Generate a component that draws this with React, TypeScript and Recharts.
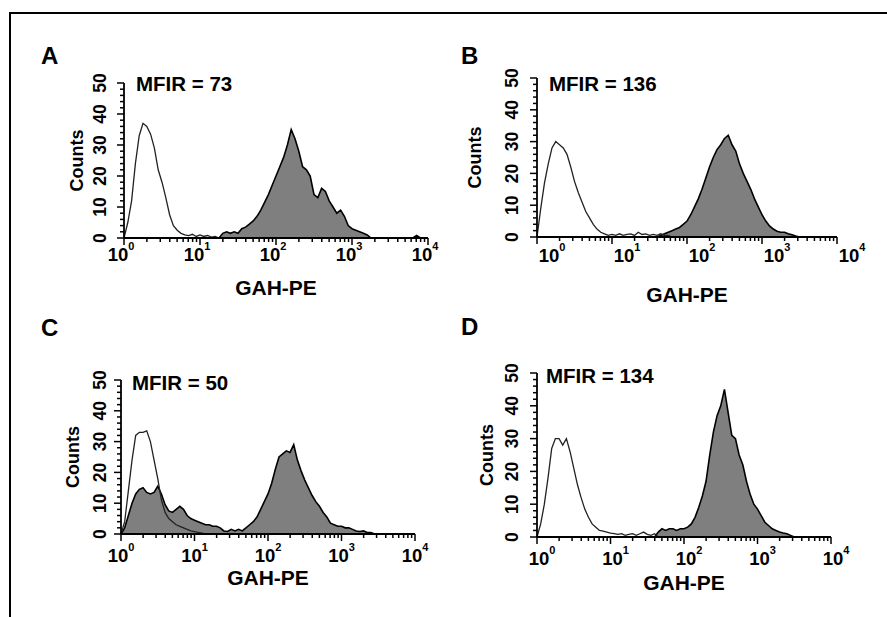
import { ComposedChart, Area, Line, XAxis, YAxis, Label } from "recharts"

// channel position in decades (10^x), shared by all panels
const channels = [
  0, 0.05, 0.1, 0.15, 0.2, 0.25, 0.3, 0.35, 0.4, 0.45,
  0.5, 0.55, 0.6, 0.65, 0.7, 0.75, 0.8, 0.85, 0.9, 0.95,
  1, 1.05, 1.1, 1.15, 1.2, 1.25, 1.3, 1.35, 1.4, 1.45,
  1.5, 1.55, 1.6, 1.65, 1.7, 1.75, 1.8, 1.85, 1.9, 1.95,
  2, 2.05, 2.1, 2.15, 2.2, 2.25, 2.3, 2.35, 2.4, 2.45,
  2.5, 2.55, 2.6, 2.65, 2.7, 2.75, 2.8, 2.85, 2.9, 2.95,
  3, 3.05, 3.1, 3.15, 3.2, 3.25, 3.3, 3.35, 3.4, 3.45,
  3.5, 3.55, 3.6, 3.65, 3.7, 3.75, 3.8, 3.85, 3.9, 3.95,
  4,
]

const aControl = [
  0, 5, 12, 24, 33, 37, 36, 33.5, 29, 22,
  18, 13, 7.5, 4, 2.5, 1.5, 1, 0.8, 1.2, 0.5,
  1, 0.5, 0.8, 0.3, 0.5, 0, 0, 0, 0, 0,
  0, 0, 0, 0, 0, 0, 0, 0, 0, 0,
  0, 0, 0, 0, 0, 0, 0, 0, 0, 0,
  0, 0, 0, 0, 0, 0, 0, 0, 0, 0,
  0, 0, 0, 0, 0, 0, 0, 0, 0, 0,
  0, 0, 0, 0, 0, 0, 0, 0, 0, 0,
  0,
]
const aStained = [
  0, 0, 0, 0, 0, 0, 0, 0, 0, 0,
  0, 0, 0, 0, 0, 0, 0, 0, 0, 0,
  0, 0, 0, 0, 0, 0, 1.5, 2, 1.5, 2,
  1.5, 3, 3.5, 4.5, 5.5, 7, 9, 11.5, 14, 17,
  20, 23, 26, 30, 35, 32, 28, 23, 22, 20,
  14, 13, 16, 15, 12, 10, 8, 9, 7, 4,
  3, 2.5, 2, 1.5, 1, 0, 0, 0, 0, 0,
  0, 0, 0, 0, 0, 0, 0, 0.8, 0, 0,
  0,
]

const bControl = [
  0, 9, 17, 23, 28, 30, 29, 28, 26, 22,
  17.5, 14, 11, 8, 6, 4, 2.5, 1.5, 1, 0.5,
  0.8, 0.5, 1, 0.5, 0.8, 1, 0.5, 1.5, 0.8, 1,
  0.5, 0.8, 0.5, 1, 0.5, 0.5, 0, 0, 0, 0,
  0, 0, 0, 0, 0, 0, 0, 0, 0, 0,
  0, 0, 0, 0, 0, 0, 0, 0, 0, 0,
  0, 0, 0, 0, 0, 0, 0, 0, 0, 0,
  0, 0, 0, 0, 0, 0, 0, 0, 0, 0,
  0,
]
const bStained = [
  0, 0, 0, 0, 0, 0, 0, 0, 0, 0,
  0, 0, 0, 0, 0, 0, 0, 0, 0, 0,
  0, 0, 0, 0, 0, 0, 0, 0, 0, 0,
  0, 0, 0, 0.5, 1, 1.5, 2, 2.5, 3, 4,
  5, 7, 9.5, 12, 15, 18.5, 22, 25, 27.5, 29,
  31, 32, 29, 27, 23, 20, 17.5, 15, 12, 9.5,
  7, 5, 3.5, 2.5, 1.8, 1.5, 1.5, 1, 0.7, 0.3,
  0, 0, 0, 0, 0, 0, 0, 0, 0, 0,
  0,
]

const cControl = [
  0, 4, 14, 24, 32, 33, 33, 33.5, 30, 24,
  18, 11, 7, 5, 4, 3, 2.5, 2, 1.5, 1,
  0.8, 0.5, 0.3, 0, 0, 0, 0, 0, 0, 0,
  0, 0, 0, 0, 0, 0, 0, 0, 0, 0,
  0, 0, 0, 0, 0, 0, 0, 0, 0, 0,
  0, 0, 0, 0, 0, 0, 0, 0, 0, 0,
  0, 0, 0, 0, 0, 0, 0, 0, 0, 0,
  0, 0, 0, 0, 0, 0, 0, 0, 0, 0,
  0,
]
const cStained = [
  0, 2, 6, 10, 13, 14.5, 15, 13.5, 13, 13.5,
  15.5, 13, 9.5, 7.5, 7, 8, 9, 8, 6, 5,
  4.5, 4, 3.5, 3, 3, 2.5, 2.5, 2, 1, 0.8,
  1.5, 1, 1.5, 1, 2, 3, 4, 5.5, 8, 10.5,
  13, 16.5, 21, 25, 26, 27, 26.5, 29, 24, 20.5,
  17.5, 15, 12.5, 10.5, 9, 7, 5.5, 3.5, 3, 2.5,
  2.5, 2, 2, 1.5, 1, 0.8, 1, 0.5, 0.5, 0,
  0, 0, 0, 0, 0, 0, 0, 0, 0, 0,
  0,
]

const dControl = [
  0, 4, 10, 18, 27, 30, 30, 28, 30, 26,
  21, 16, 12, 8.5, 6, 4, 3, 2, 1.8, 1.5,
  1.2, 1, 0.8, 1, 0.5, 0.8, 1, 0.5, 1, 1.5,
  0.8, 0.5, 1, 0, 0, 0, 0, 0, 0, 0,
  0, 0, 0, 0, 0, 0, 0, 0, 0, 0,
  0, 0, 0, 0, 0, 0, 0, 0, 0, 0,
  0, 0, 0, 0, 0, 0, 0, 0, 0, 0,
  0, 0, 0, 0, 0, 0, 0, 0, 0, 0,
  0,
]
const dStained = [
  0, 0, 0, 0, 0, 0, 0, 0, 0, 0,
  0, 0, 0, 0, 0, 0, 0, 0, 0, 0,
  0, 0, 0, 0, 0, 0, 0, 0, 0, 0,
  0, 0, 0, 1.5, 2.5, 2, 2.5, 2.5, 2, 2.5,
  2.5, 3, 4, 6, 9, 12.5, 17, 25, 32, 37,
  40, 45, 38, 31, 30, 25, 22, 17, 13, 10,
  8.5, 6.5, 4.5, 3.5, 2.5, 2, 1.5, 1.2, 1, 0.5,
  0, 0, 0, 0, 0, 0, 0, 0, 0, 0,
  0,
]

const panelLetters = ["A", "B", "C", "D"]
const mfirValues = [73, 136, 50, 134]
const decades = [0, 1, 2, 3, 4]
const countTicks = [
  0, 2, 4, 6, 8, 10, 12, 14, 16, 18, 20, 22, 24, 26,
  28, 30, 32, 34, 36, 38, 40, 42, 44, 46, 48, 50,
]
const countDomain = [0, 50]

// log minor ticks (2..9 within each decade)
const xTicks = [
  ...decades,
  ...decades.slice(0, 4).flatMap((d) =>
    [2, 3, 4, 5, 6, 7, 8, 9].map((k) => d + Math.log10(k))
  ),
].sort((a, b) => a - b)

const FONT = "'Liberation Sans', Arial, Helvetica, sans-serif"

// plot area boxes in page pixels, plus small label offsets
const layout = [
  { x0: 124, x1: 428, top: 83, base: 238, yTickDx: 24, yTitleDx: 47, xTickDx: -3, xTickDy: 16, xTitleDy: 49, letter: [41, 55], mfir: [136, 83] },
  { x0: 537, x1: 837, top: 78, base: 237, yTickDx: 25, yTitleDx: 62, xTickDx: 15, xTickDy: 18, xTitleDy: 57, letter: [461, 55], mfir: [549, 83] },
  { x0: 121, x1: 415, top: 380, base: 534, yTickDx: 21, yTitleDx: 48, xTickDx: 0, xTickDy: 21, xTitleDy: 43, letter: [41, 327], mfir: [132, 382] },
  { x0: 537, x1: 831, top: 373, base: 537, yTickDx: 25, yTitleDx: 50, xTickDx: 5, xTickDy: 21, xTitleDy: 45, letter: [461, 326], mfir: [546, 375] },
]

const series = [
  [aControl, aStained],
  [bControl, bStained],
  [cControl, cStained],
  [dControl, dStained],
]

const M_LEFT = 90
const M_TOP = 20
const M_RIGHT = 45
const M_BOTTOM = 80

function XTick(props: any) {
  const { x, y, payload, dx, dy } = props
  const v = payload.value
  const major = Math.abs(v - Math.round(v)) < 1e-6
  return (
    <g>
      <line x1={x} y1={y} x2={x} y2={y + (major ? 7 : 4)} stroke="#000" strokeWidth={1.5} />
      {major && (
        <text
          x={x + dx}
          y={y + dy}
          textAnchor="middle"
          dominantBaseline="central"
          fontFamily={FONT}
          fontWeight="bold"
          fontSize={18.5}
          fill="#000"
        >
          10
          <tspan dy={-8} fontSize={11}>
            {Math.round(v)}
          </tspan>
        </text>
      )}
    </g>
  )
}

function YTick(props: any) {
  const { x, y, payload, dx } = props
  const v = payload.value
  const major = v % 10 === 0
  const tx = x - dx
  return (
    <g>
      <line x1={x} y1={y} x2={x - (major ? 7 : 4)} y2={y} stroke="#000" strokeWidth={1.5} />
      {major && (
        <text
          x={tx}
          y={y}
          transform={`rotate(-90, ${tx}, ${y})`}
          textAnchor="middle"
          dominantBaseline="central"
          fontFamily={FONT}
          fontWeight="bold"
          fontSize={17.5}
          fill="#000"
        >
          {v}
        </text>
      )}
    </g>
  )
}

function Panel({ index }: { index: number }) {
  const box = layout[index]
  const [control, stained] = series[index]
  const rows = channels.map((ch, i) => ({
    ch,
    control: control[i],
    stained: stained[i],
  }))
  const plotW = box.x1 - box.x0
  const plotH = box.base - box.top
  const width = plotW + M_LEFT + M_RIGHT
  const height = plotH + M_TOP + M_BOTTOM

  return (
    <div style={{ position: "absolute", left: box.x0 - M_LEFT, top: box.top - M_TOP, width, height }}>
      <ComposedChart
        width={width}
        height={height}
        data={rows}
        margin={{ top: M_TOP, right: M_RIGHT, bottom: 0, left: 0 }}
      >
        <XAxis
          dataKey="ch"
          type="number"
          domain={[0, 4]}
          ticks={xTicks}
          interval={0}
          height={M_BOTTOM}
          tickSize={0}
          tickMargin={0}
          tickLine={false}
          axisLine={{ stroke: "#000", strokeWidth: 1.8 }}
          tick={<XTick dx={box.xTickDx} dy={box.xTickDy} />}
        >
          <Label
            content={(p: any) => {
              const vb = p.viewBox
              return (
                <text
                  x={vb.x + vb.width / 2}
                  y={vb.y + box.xTitleDy}
                  textAnchor="middle"
                  dominantBaseline="central"
                  fontFamily={FONT}
                  fontWeight="bold"
                  fontSize={21}
                  fill="#000"
                >
                  GAH-PE
                </text>
              )
            }}
          />
        </XAxis>
        <YAxis
          type="number"
          domain={countDomain}
          ticks={countTicks}
          interval={0}
          width={M_LEFT}
          tickSize={0}
          tickMargin={0}
          tickLine={false}
          axisLine={{ stroke: "#000", strokeWidth: 1.8 }}
          tick={<YTick dx={box.yTickDx} />}
        >
          <Label
            content={(p: any) => {
              const vb = p.viewBox
              const cx = vb.x + vb.width - box.yTitleDx
              const cy = vb.y + vb.height / 2
              return (
                <text
                  x={cx}
                  y={cy}
                  transform={`rotate(-90, ${cx}, ${cy})`}
                  textAnchor="middle"
                  dominantBaseline="central"
                  fontFamily={FONT}
                  fontWeight="bold"
                  fontSize={18}
                  fill="#000"
                >
                  Counts
                </text>
              )
            }}
          />
        </YAxis>
        <Area
          type="linear"
          dataKey="stained"
          fill="#7f7f7f"
          fillOpacity={1}
          stroke="#000"
          strokeWidth={1.6}
          dot={false}
          activeDot={false}
          isAnimationActive={false}
        />
        <Line
          type="linear"
          dataKey="control"
          stroke="#222"
          strokeWidth={1.3}
          dot={false}
          activeDot={false}
          isAnimationActive={false}
        />
      </ComposedChart>
    </div>
  )
}

export default function App() {
  return (
    <div
      style={{
        position: "absolute",
        left: 0,
        top: 0,
        width: 887,
        height: 617,
        background: "#fff",
        overflow: "hidden",
      }}
    >
      <div
        style={{
          position: "absolute",
          left: 9,
          top: 12,
          width: 887,
          height: 617,
          borderTop: "2px solid #000",
          borderLeft: "2px solid #000",
        }}
      />
      {layout.map((_, i) => (
        <Panel key={panelLetters[i]} index={i} />
      ))}
      <svg width={887} height={617} style={{ position: "absolute", left: 0, top: 0, pointerEvents: "none" }}>
        {layout.map((box, i) => (
          <g key={panelLetters[i]}>
            <text
              x={box.letter[0]}
              y={box.letter[1]}
              dominantBaseline="central"
              fontFamily={FONT}
              fontWeight="bold"
              fontSize={24}
              fill="#000"
            >
              {panelLetters[i]}
            </text>
            <text
              x={box.mfir[0]}
              y={box.mfir[1]}
              dominantBaseline="central"
              fontFamily={FONT}
              fontWeight="bold"
              fontSize={20.5}
              fill="#000"
            >
              {`MFIR = ${mfirValues[i]}`}
            </text>
          </g>
        ))}
      </svg>
    </div>
  )
}
